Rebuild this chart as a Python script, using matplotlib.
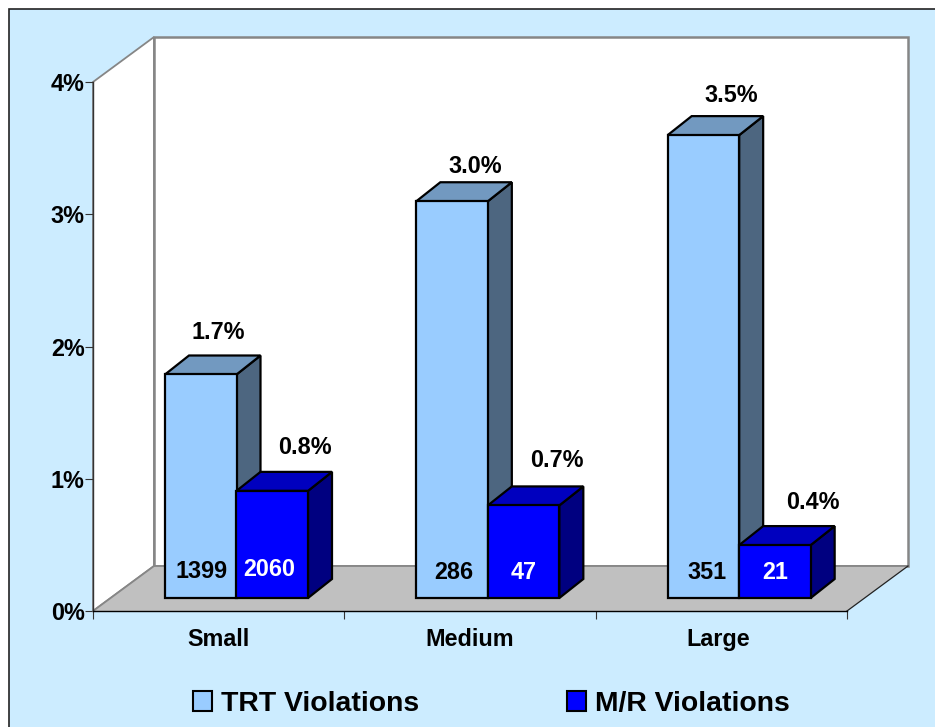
import matplotlib
matplotlib.use("Agg")
import matplotlib.pyplot as plt
from matplotlib.patches import Polygon, Patch, Rectangle

plt.rcParams['font.family'] = ['Liberation Sans', 'DejaVu Sans']
plt.rcParams['font.weight'] = 'bold'

categories = ["Small", "Medium", "Large"]
trt_values = [1.69, 3.0, 3.5]
mr_values = [0.81, 0.70, 0.40]
trt_labels = ["1.7%", "3.0%", "3.5%"]
mr_labels = ["0.8%", "0.7%", "0.4%"]
trt_counts = ["1399", "286", "351"]
mr_counts = ["2060", "47", "21"]
y_ticks = [0, 1, 2, 3, 4]
y_tick_labels = ["0%", "1%", "2%", "3%", "4%"]

W, H = 935, 727
L, R, T, B = 93, 847, 82, 611
PX = (R - L) / 3
PY = (B - T) / 4
BG = "#CCECFF"
fs = 16.8

fig = plt.figure(figsize=(W / 100, H / 100), dpi=100, facecolor="white")
fig.add_artist(Rectangle((8.5 / W, -0.02), 1.1, (H - 8.5) / H + 0.02, transform=fig.transFigure,
                         fc=BG, ec="#222222", lw=1.2, zorder=-5))
ax = fig.add_axes([L / W, 1 - B / H, (R - L) / W, (B - T) / H])
ax.patch.set_visible(False)
ax.set_xlim(0, 3)
ax.set_ylim(0, 4)
for s in ("top", "right"):
    ax.spines[s].set_visible(False)
ax.spines["left"].set_color("#333333")
ax.spines["left"].set_linewidth(1.0)
ax.spines["left"].set_zorder(6)
ax.spines["bottom"].set_color("black")
ax.spines["bottom"].set_linewidth(1.0)
ax.spines["bottom"].set_zorder(6)

ax.set_yticks(y_ticks)
ax.set_yticklabels(y_tick_labels, fontsize=fs, fontweight="bold")
ax.tick_params(axis="y", length=6, width=0.8, pad=0, color="#333333")
ax.set_xticks(range(4))
ax.set_xticklabels([""] * 4)
ax.tick_params(axis="x", length=5.5, width=0.8, color="#333333")

# depth of the box and of the bars, in data units
box_dx, box_dy = 61 / PX, 45 / PY
bar_dx, bar_dy = 24 / PX, 19 / PY
base_y = 13 / PY
bar_w = 71.5 / PX
first_left = 72 / PX


def poly(points, **kw):
    ax.add_patch(Polygon(points, closed=True, clip_on=False, **kw))


grey = "#868686"
poly([(0, 0), (box_dx, box_dy), (box_dx, 4 + box_dy), (0, 4)], fc="white", ec=grey, lw=1.3, zorder=1)
poly([(box_dx, box_dy), (3 + box_dx, box_dy), (3 + box_dx, 4 + box_dy), (box_dx, 4 + box_dy)],
     fc="white", ec=grey, lw=1.8, zorder=1)
poly([(0, 0), (3, 0), (3 + box_dx, box_dy), (box_dx, box_dy)], fc="#C0C0C0", ec="none", zorder=2)
ax.plot([0, box_dx], [0, box_dy], color=grey, lw=1.3, zorder=3, clip_on=False)
ax.plot([box_dx, 3 + box_dx], [box_dy, box_dy], color=grey, lw=1.3, zorder=3, clip_on=False)
ax.plot([3, 3 + box_dx], [0, box_dy], color="#222222", lw=0.9, zorder=3, clip_on=False)


def bar3d(x0, value, front, top, side, z):
    x1 = x0 + bar_w
    y0, y1 = base_y, base_y + value
    kw = dict(ec="black", lw=1.6, joinstyle="miter", zorder=z)
    poly([(x1, y0), (x1 + bar_dx, y0 + bar_dy), (x1 + bar_dx, y1 + bar_dy), (x1, y1)], fc=side, **kw)
    poly([(x0, y1), (x1, y1), (x1 + bar_dx, y1 + bar_dy), (x0 + bar_dx, y1 + bar_dy)], fc=top, **kw)
    ax.add_patch(Rectangle((x0, y0), bar_w, value, fc=front, clip_on=False, **kw))


for i in range(3):
    x0 = i + first_left
    bar3d(x0, trt_values[i], "#99CCFF", "#7299C0", "#4D6680", 4 + i * 0.1)
    bar3d(x0 + bar_w, mr_values[i], "#0000FF", "#0000BF", "#000080", 4.05 + i * 0.1)


def xp(px):
    return (px - L) / PX


def yp(py):
    return (B - py) / PY


txt = dict(ha="center", va="baseline", fontweight="bold", clip_on=False, zorder=7)
label_anchor_trt = [(218, 339), (475, 173), (731, 102)]
label_anchor_mr = [(305, 454), (557, 467), (813, 509)]
count_anchor_trt = [(202, 578), (454, 579), (707, 579)]
count_anchor_mr = [(269, 576), (524, 579), (775, 579)]
cat_anchor = [(218, 646), (470, 646), (718, 646)]
for i in range(3):
    ax.text(xp(label_anchor_trt[i][0]), yp(label_anchor_trt[i][1]), trt_labels[i], fontsize=fs, color="black", **txt)
    ax.text(xp(label_anchor_mr[i][0]), yp(label_anchor_mr[i][1]), mr_labels[i], fontsize=fs, color="black", **txt)
    ax.text(xp(count_anchor_trt[i][0]), yp(count_anchor_trt[i][1]), trt_counts[i], fontsize=fs, color="black", **txt)
    ax.text(xp(count_anchor_mr[i][0]), yp(count_anchor_mr[i][1]), mr_counts[i], fontsize=fs, color="white", **txt)
    ax.text(xp(cat_anchor[i][0]), yp(cat_anchor[i][1]), categories[i], fontsize=fs, color="black", **txt)

handles = [Patch(fc="#99CCFF", ec="black", lw=1.5), Patch(fc="#0000FF", ec="black", lw=1.5)]
fig.legend(handles, ["TRT Violations", "M/R Violations"], ncol=2, frameon=False,
           loc="center left", bbox_to_anchor=(193 / W, 1 - 704 / H), borderpad=0, borderaxespad=0,
           handlelength=0.68, handleheight=0.68, handletextpad=0.32, columnspacing=5.2,
           prop={"size": 20.4, "weight": "bold"})

fig.savefig("out.png", dpi=100, facecolor="white")
